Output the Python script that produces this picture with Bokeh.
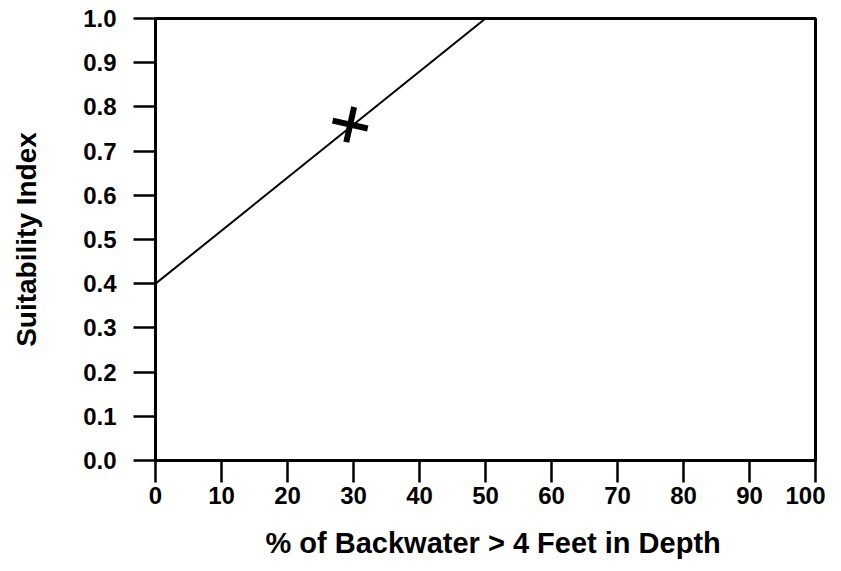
from bokeh.plotting import figure
from bokeh.models import Range1d, FixedTicker, PrintfTickFormatter, Title
from bokeh.embed import file_html
from bokeh.resources import INLINE

# Data
line_x = [0, 50]
line_y = [0.4, 1.0]
point_x = [29.5]
point_y = [0.76]
x_ticks = [0, 10, 20, 30, 40, 50, 60, 70, 80, 90, 100]
y_ticks = [0.0, 0.1, 0.2, 0.3, 0.4, 0.5, 0.6, 0.7, 0.8, 0.9, 1.0]
x_label = "% of Backwater > 4 Feet in Depth"
y_label = "Suitability Index"

FONT = "Liberation Sans"

p = figure(width=825, height=567, output_backend="svg", toolbar_location=None,
           x_range=Range1d(0, 100), y_range=Range1d(0, 1))
p.min_border_left = 155
p.min_border_top = 18
p.min_border_right = 10
p.min_border_bottom = 107
p.frame_width = 660
p.frame_height = 442

p.grid.visible = False
p.outline_line_color = "black"
p.outline_line_width = 3
p.background_fill_color = "white"
p.border_fill_color = "white"

p.line(line_x, line_y, line_color="black", line_width=2)
p.scatter(point_x, point_y, marker="cross", size=36, line_width=6,
          line_color="black", angle=-0.22)

for ax in (p.xaxis[0], p.yaxis[0]):
    ax.axis_line_width = 3
    ax.axis_line_color = "black"
    ax.major_tick_out = 22
    ax.major_tick_in = 0
    ax.major_tick_line_width = 2.5
    ax.minor_tick_out = 0
    ax.minor_tick_in = 0
    ax.major_label_text_font = FONT
    ax.major_label_text_font_style = "bold"
    ax.major_label_text_font_size = "24px"
    ax.major_label_text_color = "black"

p.xaxis.ticker = FixedTicker(ticks=x_ticks)
p.yaxis.ticker = FixedTicker(ticks=y_ticks)
p.yaxis.formatter = PrintfTickFormatter(format="%.1f")
p.xaxis.major_label_standoff = 4
p.yaxis.major_label_standoff = 17

p.yaxis.axis_label = y_label
p.yaxis.axis_label_text_font = FONT
p.yaxis.axis_label_text_font_style = "bold"
p.yaxis.axis_label_text_font_size = "28px"
p.yaxis.axis_label_text_color = "black"
p.yaxis.axis_label_standoff = 38

xt = Title(text=x_label, align="left", offset=110, text_font=FONT,
           text_font_style="bold", text_font_size="29px", text_color="black",
           standoff=37)
p.add_layout(xt, "below")

open("out.html", "w").write(file_html(p, INLINE))
